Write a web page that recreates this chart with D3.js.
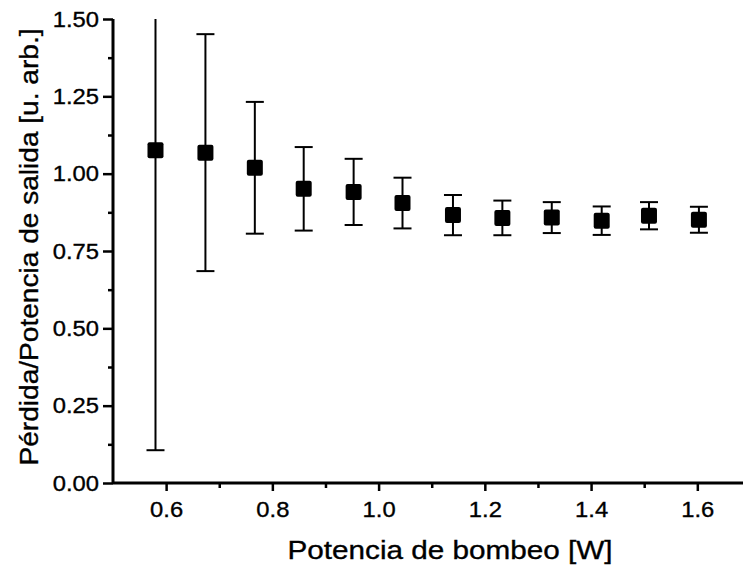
<!DOCTYPE html>
<html><head><meta charset="utf-8">
<script src="https://cdn.jsdelivr.net/npm/d3@7"></script>
<style>body{margin:0;background:#fff}svg{display:block}text{font-family:"Liberation Sans",Arial,sans-serif;fill:#000;stroke:#000;stroke-width:0.35px}</style>
</head><body><svg id="c" width="744" height="567"></svg>
<script>
const pump = [0.580, 0.674, 0.767, 0.859, 0.953, 1.045, 1.140, 1.233, 1.326, 1.420, 1.509, 1.603];
const loss = [1.076, 1.068, 1.019, 0.951, 0.941, 0.905, 0.866, 0.857, 0.858, 0.848, 0.864, 0.851];
const lossErr = [0.97, 0.383, 0.213, 0.135, 0.107, 0.082, 0.065, 0.056, 0.050, 0.046, 0.044, 0.042];
const xTicks = [0.6, 0.8, 1.0, 1.2, 1.4, 1.6];
const xMinor = [0.7, 0.9, 1.1, 1.3, 1.5];
const yTicks = [0.00, 0.25, 0.50, 0.75, 1.00, 1.25, 1.50];
const yMinor = [0.125, 0.375, 0.625, 0.875, 1.125, 1.375];
const xTitle = "Potencia de bombeo [W]";
const yTitle = "Pérdida/Potencia de salida [u. arb.]";

const svg = d3.select("#c");
const x = d3.scaleLinear().domain([0.5, 1.686]).range([113, 743]);
const y = d3.scaleLinear().domain([0, 1.5]).range([483, 19]);

svg.append("defs").append("clipPath").attr("id","clip").append("rect")
  .attr("x",113).attr("y",19).attr("width",631).attr("height",464);

const gx = svg.append("g").attr("transform","translate(0,483)");
gx.call(d3.axisBottom(x).tickValues(xMinor).tickSize(5).tickFormat(""));
const gx2 = svg.append("g").attr("transform","translate(0,483)");
gx2.call(d3.axisBottom(x).tickValues(xTicks).tickSize(8).tickPadding(10).tickFormat(d3.format(".1f")));
const gy = svg.append("g").attr("transform","translate(113,0)");
gy.call(d3.axisLeft(y).tickValues(yMinor).tickSize(5).tickFormat(""));
const gy2 = svg.append("g").attr("transform","translate(113,0)");
gy2.call(d3.axisLeft(y).tickValues(yTicks).tickSize(10).tickPadding(4).tickFormat(d3.format(".2f")));
svg.selectAll(".domain").attr("stroke","#000").attr("stroke-width",3);
svg.selectAll(".tick line").attr("stroke","#000").attr("stroke-width",2.5);
svg.selectAll(".tick text").style("font-size","22px").attr("fill","#000")
  .each(function(){ const L=this.getComputedTextLength(); d3.select(this).attr("textLength",L*1.08).attr("lengthAdjust","spacingAndGlyphs"); });
gy2.selectAll(".domain").attr("d", `M-0,${y(1.5)}V${y(0)}`);
gy.selectAll(".domain").remove();
gx.selectAll(".domain").remove();
gx2.selectAll(".domain").attr("d", `M${x(0.5)},0H${x(1.686)}`);

const plot = svg.append("g").attr("clip-path","url(#clip)");
const cap = 9;
pump.forEach((p,i)=>{
  const cx = x(p), top = y(loss[i]+lossErr[i]), bot = y(loss[i]-lossErr[i]);
  plot.append("line").attr("x1",cx).attr("x2",cx).attr("y1",top).attr("y2",bot).attr("stroke","#000").attr("stroke-width",2);
  [top,bot].forEach(v=>plot.append("line").attr("x1",cx-cap).attr("x2",cx+cap).attr("y1",v).attr("y2",v).attr("stroke","#000").attr("stroke-width",2));
});
const s = 16;
svg.append("g").selectAll("rect").data(pump).join("rect")
  .attr("x",d=>x(d)-s/2).attr("y",(d,i)=>y(loss[i])-s/2)
  .attr("width",s).attr("height",s).attr("rx",2).attr("fill","#000");

svg.append("text").attr("x",450).attr("y",559).attr("text-anchor","middle").style("font-size","26px")
  .attr("textLength",325).attr("lengthAdjust","spacingAndGlyphs").text(xTitle);
svg.append("text").attr("transform","translate(38,247) rotate(-90)").attr("text-anchor","middle").style("font-size","26px")
  .attr("textLength",437).attr("lengthAdjust","spacingAndGlyphs").text(yTitle);
</script></body></html>
